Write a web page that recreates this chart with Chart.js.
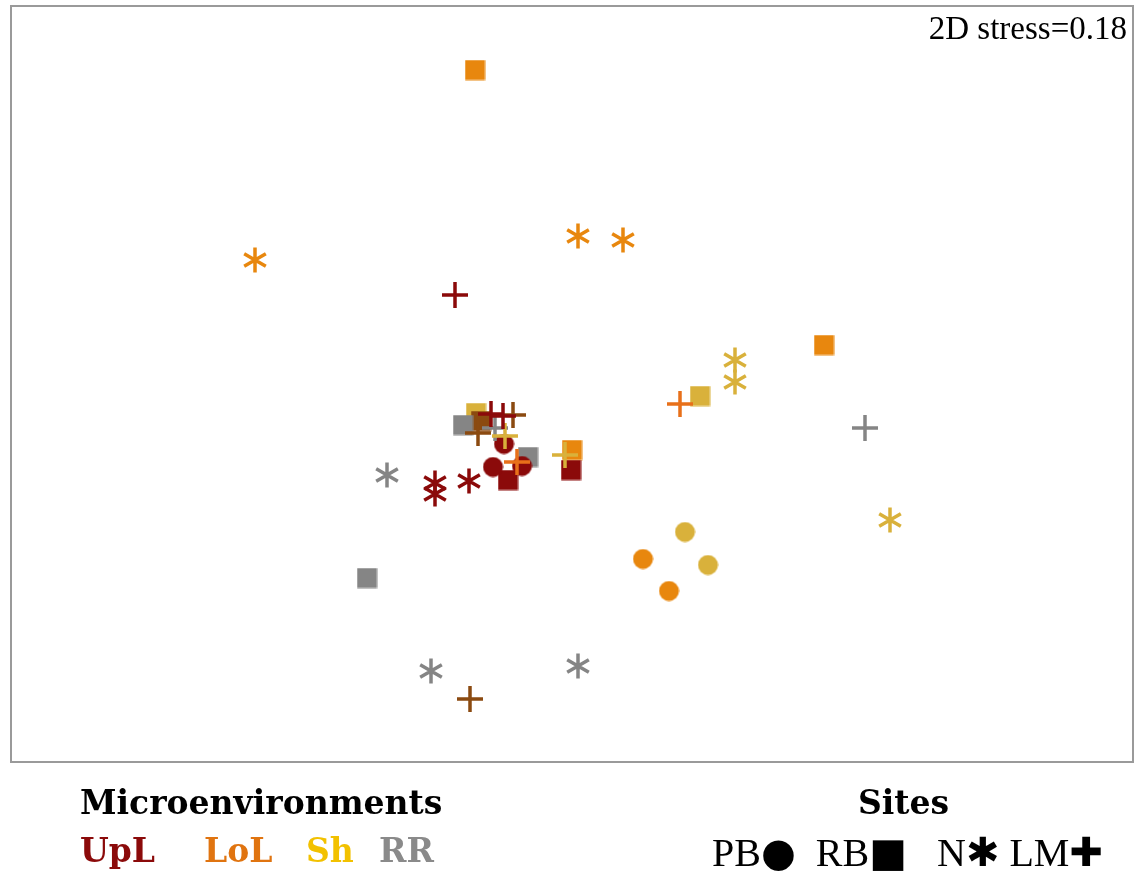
<!DOCTYPE html>
<html>
<head>
<meta charset="utf-8">
<script src="https://cdn.jsdelivr.net/npm/chart.js@4"></script>
<style>
  html, body { margin: 0; padding: 0; background: #fff; }
  #wrap { position: relative; width: 1139px; height: 873px; }
  #chart { position: absolute; left: 0; top: 0; }
  .txt { position: absolute; font-family: "DejaVu Serif", serif; white-space: nowrap; line-height: 1; }
  .bold { font-weight: bold; }
  .sym { font-family: "DejaVu Sans", sans-serif; }
</style>
</head>
<body>
<div id="wrap">
  <canvas id="chart" width="1139" height="873"></canvas>
  <div class="txt" style="right:12px; top:12px; font-family:'Liberation Serif', serif; font-size:33px;">2D stress=0.18</div>
  <div class="txt bold" style="left:80px; top:786px; font-size:33px;">Microenvironments</div>
  <div class="txt bold" style="left:80px; top:834px; font-size:33px; color:#8b0a0a">UpL</div>
  <div class="txt bold" style="left:204px; top:834px; font-size:33px; color:#e07410">LoL</div>
  <div class="txt bold" style="left:306px; top:834px; font-size:33px; color:#f2c100">Sh</div>
  <div class="txt bold" style="left:379px; top:834px; font-size:33px; color:#8a8a8a">RR</div>
  <div class="txt bold" style="left:858px; top:786px; font-size:33px;">Sites</div>
  <div class="txt" style="left:712px; top:832px; font-size:40px; font-family:'Liberation Serif', serif;">PB<span class="sym">●</span>&nbsp; RB<span class="sym">■</span>&nbsp;&nbsp; N<span class="sym">✱</span> LM<span class="sym">✚</span></div>
</div>
<script>
// NMDS ordination positions (plot units), grouped by microenvironment and site

const uplPB = [[493, 467], [504, 444], [522, 466]];
const uplRB = [[508, 480], [571, 470]];
const uplN  = [[435, 483], [435, 494], [469, 481]];
const uplLM = [[455, 295], [491, 414], [503, 416]];

const lolPB = [[643, 559], [669, 591]];
const lolRB = [[475, 70], [824, 345], [572, 450]];
const lolN  = [[255, 260], [578, 236], [623, 240]];
const lolLM = [[680, 404], [517, 462]];

const shPB = [[685, 532], [708, 565]];
const shRB = [[700, 396], [476, 413]];
const shN  = [[735, 360], [735, 382], [890, 520]];
const shLM = [[505, 436], [565, 455]];

const rrRB = [[367, 578], [463, 425], [528, 457]];
const rrN  = [[387, 475], [431, 671], [578, 666]];
const rrLM = [[865, 428], [495, 428]];

const brRB = [[481, 421]];
const brLM = [[470, 699], [478, 433], [513, 415]];

const X_RANGE = [11, 1133];
const Y_RANGE = [6, 762];

const COLORS = {
    UpL: "#8b0a0a",
    LoL: "#e8870e",
    Sh: "#d9b13b",
    RR: "#858585",
    Br: "#8b4a10",
};

function makeMarker(shape, color) {
    const s = shape === "circle" || shape === "square" ? 21 : 28;
    const c = document.createElement("canvas");
    c.width = s; c.height = s;
    const g = c.getContext("2d");
    g.fillStyle = color;
    g.strokeStyle = color;
    const m = s / 2;
    if (shape === "circle") {
        g.beginPath(); g.arc(m, m, 10, 0, Math.PI * 2); g.fill();
    } else if (shape === "square") {
        g.fillRect(0.5, 0.5, 20, 20);
    } else if (shape === "cross") {
        g.lineWidth = 3.5;
        g.beginPath();
        g.moveTo(1, m); g.lineTo(s - 1, m);
        g.moveTo(m, 1); g.lineTo(m, s - 1);
        g.stroke();
    } else if (shape === "star") {
        g.lineWidth = 3.5;
        g.beginPath();
        for (let k = 0; k < 3; k++) {
            const a = Math.PI / 2 + k * Math.PI / 3;
            g.moveTo(m + Math.cos(a) * 12.5, m + Math.sin(a) * 12.5);
            g.lineTo(m - Math.cos(a) * 12.5, m - Math.sin(a) * 12.5);
        }
        g.stroke();
    }
    return c;
}

const toXY = (arr) => arr.map(([x, y]) => ({ x, y }));

function ds(label, pts, shape, color, order) {
    return {
        label,
        data: toXY(pts),
        pointStyle: makeMarker(shape, color),
        order,
    };
}

const datasets = [
    ds("UpL PB", uplPB, "circle", COLORS.UpL, 3),
    ds("LoL PB", lolPB, "circle", COLORS.LoL, 3),
    ds("Sh PB", shPB, "circle", COLORS.Sh, 3),
    ds("UpL RB", uplRB, "square", COLORS.UpL, 4),
    ds("LoL RB", lolRB, "square", COLORS.LoL, 4),
    ds("RR RB", rrRB, "square", COLORS.RR, 4),
    ds("other RB", brRB, "square", COLORS.Br, 4),
    ds("Sh RB", shRB, "square", COLORS.Sh, 5),
    ds("UpL N", uplN, "star", COLORS.UpL, 2),
    ds("LoL N", lolN, "star", COLORS.LoL, 2),
    ds("Sh N", shN, "star", COLORS.Sh, 2),
    ds("RR N", rrN, "star", COLORS.RR, 2),
    ds("UpL LM", uplLM, "cross", COLORS.UpL, 1),
    ds("LoL LM", lolLM, "cross", "#e8701a", 1),
    ds("Sh LM", shLM, "cross", COLORS.Sh, 1),
    ds("RR LM", rrLM, "cross", COLORS.RR, 1),
    ds("other LM", brLM, "cross", COLORS.Br, 1),
];

const frame = {
    id: "frame",
    afterDraw(chart) {
        const { ctx, chartArea: a } = chart;
        ctx.save();
        ctx.strokeStyle = "#9a9a9a";
        ctx.lineWidth = 2;
        ctx.strokeRect(a.left, a.top, a.right - a.left, a.bottom - a.top);
        ctx.restore();
    }
};

new Chart(document.getElementById("chart"), {
    type: "scatter",
    data: { datasets },
    options: {
        responsive: false,
        animation: false,
        layout: { padding: { left: 11, top: 6, right: 6, bottom: 111 } },
        plugins: { legend: { display: false }, tooltip: { enabled: false } },
        scales: {
            x: { display: false, min: X_RANGE[0], max: X_RANGE[1] },
            y: { display: false, min: Y_RANGE[0], max: Y_RANGE[1], reverse: true },
        },
    },
    plugins: [frame],
});
</script>
</body>
</html>
